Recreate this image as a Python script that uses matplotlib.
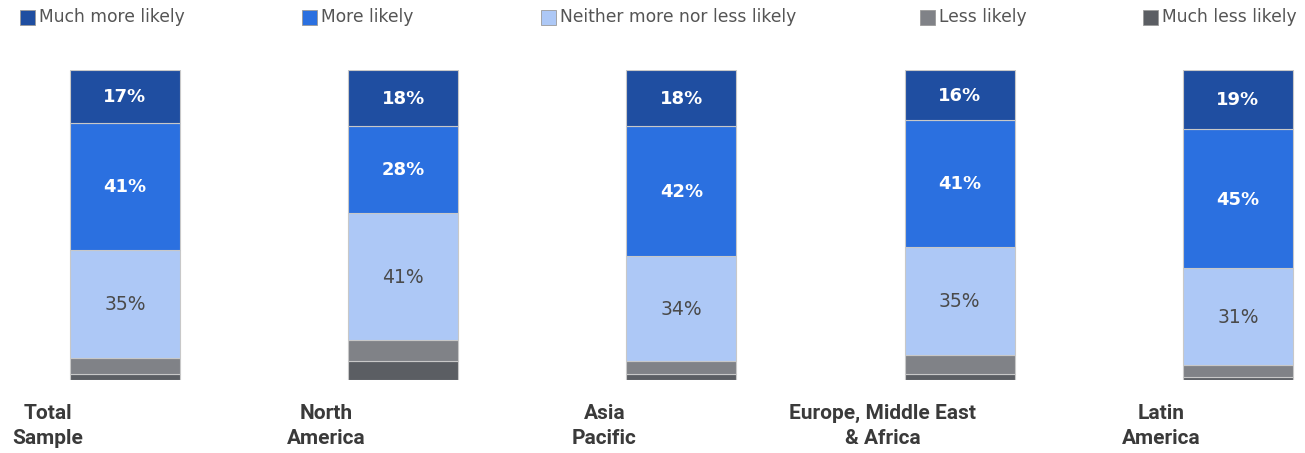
import matplotlib
matplotlib.use("Agg")
import matplotlib.pyplot as plt
from matplotlib.patches import Rectangle
from matplotlib.transforms import blended_transform_factory

# data
regions = ["Total\nSample", "North\nAmerica", "Asia\nPacific",
           "Europe, Middle East\n& Africa", "Latin\nAmerica"]
series = ["Much more likely", "More likely", "Neither more nor less likely",
          "Less likely", "Much less likely"]
much_more = [17, 18, 18, 16, 19]
more = [41, 28, 42, 41, 45]
neither = [35, 41, 34, 35, 31]
less = [5, 7, 4, 6, 4]
much_less = [2, 6, 2, 2, 1]

colors = ["#1f4ea1", "#2b70e0", "#adc8f6", "#808287", "#5b5e63"]
label_colors = ["white", "white", "#4a4a4a", None, None]
label_weights = ["bold", "bold", "normal", None, None]
label_sizes = [13, 13, 13.5, None, None]

plt.rcParams["font.family"] = ["DejaVu Sans"]

W, H = 1305, 453
fig = plt.figure(figsize=(W / 100, H / 100), dpi=100)

# axes placed so bars land where they do in the reference
top_px, bot_px = 70, 380
ax = fig.add_axes([0, (H - bot_px) / H, 1, (bot_px - top_px) / H])
step = 278.25
ax.set_xlim(-125 / step, (W - 125) / step)
ax.set_ylim(0, 100)
ax.axis("off")

x = list(range(len(regions)))
width = 110 / step

# stack from the bottom up
stack = [much_less, less, neither, more, much_more]
stack_colors = colors[::-1]
bottoms = [0] * len(x)
seg_info = []
for vals, col in zip(stack, stack_colors):
    ax.bar(x, vals, width=width, bottom=bottoms, color=col,
           edgecolor="#c8c8c8", linewidth=0.8)
    seg_info.append((vals, list(bottoms)))
    bottoms = [b + v for b, v in zip(bottoms, vals)]

# percentage labels on the three big segments
for idx, (vals, bots) in enumerate(seg_info[2:]):
    k = 2 - idx  # neither=2, more=1, much_more=0
    for xi, v, b in zip(x, vals, bots):
        ax.text(xi, b + v / 2 - 0.3, f"{v}%", ha="center", va="center",
                color=label_colors[k], fontweight=label_weights[k],
                fontsize=label_sizes[k])

# category labels, shifted left of the bar centers like the original
trans = blended_transform_factory(ax.transData, ax.transAxes)
for xi, name in zip(x, regions):
    ax.text(xi - 0.277, -0.148, name, transform=trans, ha="center",
            va="center", fontsize=15, fontweight="bold", color="#3a3a3a",
            family=["Roboto", "DejaVu Sans"], linespacing=1.4)

# legend along the top
legend_x = [20, 302, 541, 920, 1143]
for lx, name, col in zip(legend_x, series, colors):
    fig.patches.append(Rectangle((lx / W, 1 - 25 / H), 15 / W, 15 / H,
                                 transform=fig.transFigure, facecolor=col,
                                 edgecolor="#9a9a9a", linewidth=0.6))
    fig.text((lx + 19) / W, 1 - 17 / H, name, ha="left", va="center",
             fontsize=12.3, color="#555555")

fig.savefig("out.png", dpi=100)
